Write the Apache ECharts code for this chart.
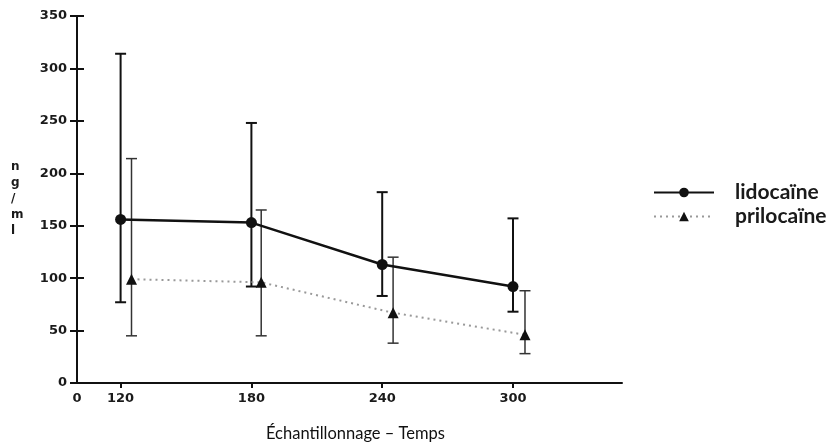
<!DOCTYPE html>
<html>
<head>
<meta charset="utf-8">
<script src="https://cdn.jsdelivr.net/npm/echarts@6/dist/echarts.min.js"></script>
<style>html,body{margin:0;padding:0;background:#fff}#c{width:832px;height:448px}</style>
</head>
<body>
<div id="c"></div>
<script>
var xTicks = [100, 120, 180, 240, 300];
var xTickLabels = ['0', '120', '180', '240', '300'];

var lidoX = [120, 180, 240, 300];
var lidoY = [156, 153, 113, 92];
var lidoHi = [314, 248, 182, 157];
var lidoLo = [77, 92, 83, 68];

var priloX = [125, 184.5, 245, 305.5];
var priloY = [99, 96, 67, 46];
var priloHi = [214, 165, 120, 88];
var priloLo = [45, 45, 38, 28];

var chart = echarts.init(document.getElementById('c'));

function pairs(xs, ys) { return xs.map(function (x, i) { return [x, ys[i]]; }); }
function bars(xs, lo, hi) { return xs.map(function (x, i) { return [x, lo[i], hi[i]]; }); }

function errRender(color, width, capW) {
  return function (params, api) {
    var x = api.value(0);
    var lo = api.coord([x, api.value(1)]);
    var hi = api.coord([x, api.value(2)]);
    var st = { stroke: color, lineWidth: width };
    return {
      type: 'group',
      children: [
        { type: 'line', shape: { x1: lo[0], y1: lo[1], x2: hi[0], y2: hi[1] }, style: st },
        { type: 'line', shape: { x1: lo[0] - capW / 2, y1: lo[1], x2: lo[0] + capW / 2, y2: lo[1] }, style: st },
        { type: 'line', shape: { x1: hi[0] - capW / 2, y1: hi[1], x2: hi[0] + capW / 2, y2: hi[1] }, style: st }
      ]
    };
  };
}

var labelFont = { fontFamily: 'DejaVu Sans', fontWeight: 'bold', fontSize: 13, color: '#1a1a1a' };

chart.setOption({
  animation: false,
  backgroundColor: '#fff',
  grid: { left: 77, right: 210, top: 16, bottom: 65 },
  xAxis: {
    type: 'value', min: 100, max: 350,
    axisLine: { show: true, lineStyle: { color: '#111', width: 2 } },
    axisTick: { show: true, customValues: xTicks.slice(1), length: 5, lineStyle: { color: '#111', width: 2 } },
    axisLabel: Object.assign({
      customValues: xTicks,
      formatter: function (v) { var i = xTicks.indexOf(v); return i >= 0 ? xTickLabels[i] : ''; },
      margin: 9
    }, labelFont),
    splitLine: { show: false },
    name: 'Échantillonnage – Temps',
    nameLocation: 'middle', nameGap: 42,
    nameTextStyle: { fontFamily: 'Lato', fontSize: 16.5, color: '#111', padding: [0, 0, 0, 12] }
  },
  yAxis: [{
    type: 'value', min: 0, max: 350, interval: 50,
    axisLine: { show: true, lineStyle: { color: '#111', width: 2 } },
    axisTick: { show: true, length: 7, lineStyle: { color: '#111', width: 2 } },
    axisLabel: Object.assign({ margin: 10 }, labelFont),
    splitLine: { show: false }
  }, {
    type: 'value', min: 0, max: 350, interval: 50, position: 'left',
    axisLine: { show: false },
    axisTick: { show: true, inside: true, length: 7, lineStyle: { color: '#111', width: 2 } },
    axisLabel: { show: false },
    splitLine: { show: false }
  }],
  legend: {
    orient: 'vertical', left: 648, top: 176,
    itemWidth: 60, itemHeight: 12, itemGap: 1,
    data: ['lidocaïne', 'prilocaïne'],
    textStyle: { fontFamily: 'Lato', fontWeight: 'bold', fontSize: 21, lineHeight: 23, color: '#1a1a1a', padding: [0, 0, 0, 16] }
  },
  graphic: [{
    type: 'text', left: 11, top: 159,
    style: { text: 'n\ng\n/\nm\nl', fontFamily: 'DejaVu Sans', fontWeight: 'bold', fontSize: 12, lineHeight: 16, fill: '#1a1a1a', align: 'center' }
  }],
  series: [
    {
      type: 'custom', name: 'lidoErr', renderItem: errRender('#111', 2, 11),
      data: bars(lidoX, lidoLo, lidoHi), z: 2, silent: true
    },
    {
      type: 'custom', name: 'priloErr', renderItem: errRender('#333', 1.5, 11),
      data: bars(priloX, priloLo, priloHi), z: 2, silent: true
    },
    {
      type: 'line', name: 'lidocaïne', data: pairs(lidoX, lidoY),
      symbol: 'circle', symbolSize: 11,
      lineStyle: { color: '#111', width: 2.5 },
      itemStyle: { color: '#111' }, z: 3
    },
    {
      type: 'line', name: 'prilocaïne', data: pairs(priloX, priloY),
      symbol: 'triangle', symbolSize: 11,
      lineStyle: { color: '#999', width: 2, type: [2, 4] },
      itemStyle: { color: '#111' }, z: 3
    }
  ]
});
</script>
</body>
</html>
